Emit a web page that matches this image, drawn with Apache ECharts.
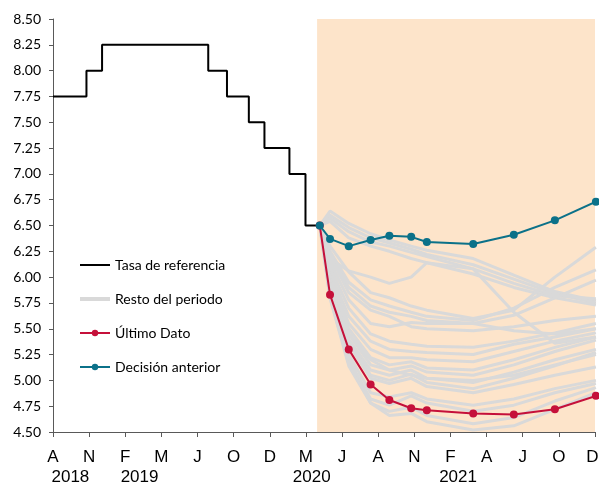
<!DOCTYPE html>
<html><head><meta charset="utf-8">
<script src="https://cdn.jsdelivr.net/npm/echarts@6/dist/echarts.min.js"></script>
<style>html,body{margin:0;padding:0;background:#fff}#c{width:599px;height:483px}</style>
</head><body><div id="c"></div>
<script>
const axisStart = '2018-09-01';
const tickStepDays = 81;
const monthTickLabels = ['A','N','F','M','J','O','D','M','J','A','N','F','A','J','O','D'];
const yearLabels = ['2018','2019','2020','2021'];
const yearLabelDates = ['2018-10-10','2019-03-14','2020-04-03','2021-02-25'];
const yTicks = [4.5, 8.5, 0.25];

const refDates = ['2018-09-01','2018-11-15','2018-12-20','2019-08-15','2019-09-26','2019-11-14','2019-12-19','2020-02-13','2020-03-20','2020-04-21'];
const refRates = [7.75, 8.00, 8.25, 8.00, 7.75, 7.50, 7.25, 7.00, 6.50, 6.50];

const forecastDates = ['2020-04-21','2020-05-14','2020-06-25','2020-08-13','2020-09-24','2020-11-12','2020-12-17','2021-03-31','2021-06-30','2021-09-30','2021-12-31'];
const ultimoDato = [6.50, 5.83, 5.30, 4.96, 4.81, 4.73, 4.71, 4.68, 4.67, 4.72, 4.85];
const decisionAnterior = [6.50, 6.37, 6.30, 6.36, 6.40, 6.39, 6.34, 6.32, 6.41, 6.55, 6.73];

const restoDelPeriodo = [
  [6.50, 6.64, 6.52, 6.42, 6.36, 6.30, 6.26, 6.18, 6.02, 5.86, 5.77],
  [6.50, 6.60, 6.48, 6.38, 6.33, 6.27, 6.22, 6.12, 5.98, 5.84, 5.75],
  [6.50, 6.57, 6.44, 6.34, 6.30, 6.24, 6.20, 6.08, 5.94, 5.82, 5.79],
  [6.50, 6.54, 6.38, 6.30, 6.25, 6.18, 6.14, 6.03, 5.90, 5.80, 5.73],
  [6.50, 6.18, 6.06, 6.00, 5.94, 6.00, 6.14, 6.08, 5.66, 5.36, 5.42],
  [6.50, 6.30, 6.05, 5.85, 5.80, 5.72, 5.68, 5.60, 5.68, 6.00, 6.29],
  [6.50, 6.25, 5.95, 5.78, 5.72, 5.66, 5.62, 5.58, 5.70, 5.90, 6.07],
  [6.50, 6.22, 5.90, 5.72, 5.66, 5.62, 5.58, 5.55, 5.63, 5.80, 5.97],
  [6.50, 6.20, 5.85, 5.68, 5.62, 5.52, 5.50, 5.48, 5.52, 5.58, 5.62],
  [6.50, 6.10, 5.70, 5.45, 5.38, 5.35, 5.33, 5.32, 5.38, 5.46, 5.55],
  [6.50, 6.05, 5.62, 5.38, 5.30, 5.28, 5.27, 5.25, 5.35, 5.42, 5.50],
  [6.50, 6.00, 5.55, 5.30, 5.22, 5.22, 5.20, 5.18, 5.28, 5.38, 5.46],
  [6.50, 5.98, 5.50, 5.22, 5.15, 5.18, 5.12, 5.10, 5.20, 5.32, 5.42],
  [6.50, 5.95, 5.45, 5.15, 5.10, 5.14, 5.08, 5.05, 5.15, 5.28, 5.39],
  [6.50, 5.92, 5.40, 5.10, 5.05, 5.10, 5.02, 4.98, 5.08, 5.20, 5.30],
  [6.50, 5.90, 5.38, 5.05, 5.00, 5.06, 4.98, 4.92, 5.02, 5.14, 5.27],
  [6.50, 5.88, 5.35, 5.02, 4.97, 5.02, 4.94, 4.88, 4.96, 5.05, 5.13],
  [6.50, 5.85, 5.25, 4.88, 4.84, 4.88, 4.82, 4.76, 4.82, 4.92, 5.00],
  [6.50, 5.82, 5.20, 4.82, 4.76, 4.85, 4.78, 4.70, 4.76, 4.88, 4.97],
  [6.50, 5.80, 5.16, 4.78, 4.70, 4.74, 4.66, 4.58, 4.64, 4.80, 4.93],
  [6.50, 5.80, 5.14, 4.78, 4.66, 4.68, 4.60, 4.52, 4.56, 4.72, 4.88],
  [6.50, 5.85, 5.45, 5.20, 5.10, 5.05, 5.02, 5.00, 5.05, 5.15, 5.25],
  [6.50, 6.15, 5.78, 5.55, 5.52, 5.56, 5.55, 5.55, 5.48, 5.45, 5.50]
];

const shadeDates = ['2020-04-15', '2022-01-08'];

function day(s) {
  const p = s.split('-').map(Number), q = axisStart.split('-').map(Number);
  return (Date.UTC(p[0], p[1]-1, p[2]) - Date.UTC(q[0], q[1]-1, q[2])) / 864e5;
}
const xMax = (monthTickLabels.length - 1) * tickStepDays;
const pair = (dates, vals) => dates.map((d, i) => [day(d), vals[i]]);

const grayColor = '#D9D9D9';
const redColor = '#C5103A';
const tealColor = '#0B7189';
const axisCol = '#595959';

const series = [];
series.push({
  type: 'line', name: 'shade', data: [], clip: false, silent: true, z: 0,
  markArea: {
    silent: true,
    itemStyle: { color: '#FDE4CA' },
    data: [[{ xAxis: day(shadeDates[0]), yAxis: 8.53 }, { xAxis: day(shadeDates[1]), yAxis: 4.5 }]]
  }
});
restoDelPeriodo.forEach(vals => {
  series.push({
    type: 'line', name: 'Resto del periodo', data: pair(forecastDates, vals),
    symbol: 'none', clip: false, z: 2,
    lineStyle: { color: grayColor, width: 3 }, itemStyle: { color: grayColor },
    emphasis: { disabled: true }
  });
});
series.push({
  type: 'line', name: 'Tasa de referencia', data: pair(refDates, refRates), step: 'end',
  symbol: 'none', z: 3, lineStyle: { color: '#000', width: 2 }, itemStyle: { color: '#000' },
  emphasis: { disabled: true }
});
series.push({
  type: 'line', name: 'Último Dato', data: pair(forecastDates, ultimoDato), clip: false,
  symbol: 'circle', symbolSize: 8, showSymbol: true, z: 4,
  lineStyle: { color: redColor, width: 2 }, itemStyle: { color: redColor },
  emphasis: { disabled: true }
});
series.push({
  type: 'line', name: 'Decisión anterior', data: pair(forecastDates, decisionAnterior), clip: false,
  symbol: 'circle', symbolSize: 8, showSymbol: true, z: 5,
  lineStyle: { color: tealColor, width: 2 }, itemStyle: { color: tealColor },
  emphasis: { disabled: true }
});

const chart = echarts.init(document.getElementById('c'), null, { renderer: 'canvas' });
chart.setOption({
  animation: false,
  backgroundColor: '#fff',
  grid: { left: 53, right: 4, top: 19, bottom: 51, containLabel: false, outerBoundsMode: 'none' },
  legend: {
    data: [
      { name: 'Tasa de referencia', icon: 'path://M0,0L30,0L30,2L0,2Z' },
      { name: 'Resto del periodo', icon: 'path://M0,0L30,0L30,4L0,4Z' },
      { name: 'Último Dato' },
      { name: 'Decisión anterior' }
    ],
    orient: 'vertical', left: 79, top: 258, padding: 0,
    itemWidth: 30, itemHeight: 8, itemGap: 20,
    selectedMode: false,
    textStyle: { fontFamily: 'Lato', fontSize: 14, color: '#000' }
  },
  xAxis: [{
    type: 'value', min: 0, max: xMax, interval: tickStepDays,
    axisLine: { show: true, lineStyle: { color: axisCol, width: 1 } },
    axisTick: { show: true, length: 5, lineStyle: { color: axisCol } },
    splitLine: { show: false },
    axisLabel: {
      margin: 17, fontFamily: 'Liberation Sans', fontSize: 17, color: '#000',
      showMinLabel: true, showMaxLabel: true,
      rich: { last: { fontFamily: 'Liberation Sans', fontSize: 17, color: '#000', padding: [0, 5, 0, 0] } },
      formatter: v => {
        const i = Math.round(v / tickStepDays);
        const t = monthTickLabels[i] || '';
        return i === monthTickLabels.length - 1 ? '{last|' + t + '}' : t;
      }
    }
  }, {
    type: 'value', min: 0, max: xMax, position: 'bottom',
    axisLine: { show: false }, axisTick: { show: false }, splitLine: { show: false },
    axisLabel: {
      customValues: yearLabelDates.map(day),
      margin: 37, fontFamily: 'Liberation Sans', fontSize: 17, color: '#000',
      formatter: v => {
        const i = yearLabelDates.findIndex(d => Math.abs(day(d) - v) < 0.5);
        return i >= 0 ? yearLabels[i] : '';
      }
    }
  }],
  yAxis: {
    type: 'value', min: yTicks[0], max: yTicks[1], interval: yTicks[2],
    axisLine: { show: true, lineStyle: { color: axisCol, width: 1 } },
    axisTick: { show: true, length: 4, lineStyle: { color: axisCol } },
    splitLine: { show: false },
    axisLabel: {
      margin: 12, fontFamily: 'Lato', fontSize: 14, color: '#000',
      formatter: v => v.toFixed(2)
    }
  },
  series
});
</script></body></html>
